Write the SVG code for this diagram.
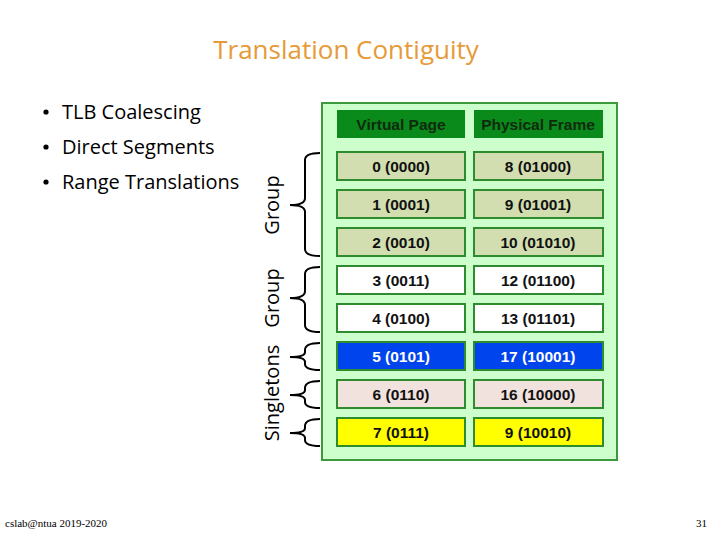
<svg xmlns="http://www.w3.org/2000/svg" width="720" height="540" viewBox="0 0 720 540">
<style>
.title{font-family:"Open Sans","Liberation Sans",sans-serif;font-size:26px;fill:#E69A38}
.bul{font-family:"Open Sans","Liberation Sans",sans-serif;font-size:20px;fill:#000}
.cell{stroke:#2E8B2E;stroke-width:2}
.ct{font-family:"Liberation Sans",sans-serif;font-weight:bold;font-size:15.5px;text-anchor:middle;fill:#111}
.ht{font-family:"Liberation Sans",sans-serif;font-weight:bold;font-size:15.5px;text-anchor:middle;fill:#0f2a0f}
.brace{fill:none;stroke:#000;stroke-width:2}
.lab{font-family:"Open Sans","Liberation Sans",sans-serif;font-size:20px;fill:#000;text-anchor:middle}
.foot{font-family:"Liberation Serif",serif;font-size:11px;fill:#000}
</style>
<rect width="720" height="540" fill="#fff"/>
<text class="title" x="346" y="59" text-anchor="middle">Translation Contiguity</text>
<g id="bullets">
<circle cx="46" cy="112" r="2.6"/><text class="bul" x="62" y="119">TLB Coalescing</text>
<circle cx="46" cy="147" r="2.6"/><text class="bul" x="62" y="154">Direct Segments</text>
<circle cx="46" cy="182" r="2.6"/><text class="bul" x="62" y="189">Range Translations</text>
</g>
<g id="table">
<rect x="322" y="103" width="295" height="357" fill="#CCFFCC" stroke="#3C9A3C" stroke-width="2"/>
<g id="hdr-vp"><rect x="337" y="110" width="128" height="28" fill="#0A8A1A"/><text class="ht" x="401" y="130">Virtual Page</text></g>
<g id="hdr-pf"><rect x="474" y="110" width="129" height="28" fill="#0A8A1A"/><text class="ht" x="538" y="130">Physical Frame</text></g>
<g id="r0"><rect class="cell" x="337" y="152" width="128" height="28" fill="#D2DEB0"/><text class="ct" x="401" y="172">0 (0000)</text><rect class="cell" x="474" y="152" width="129" height="28" fill="#D2DEB0"/><text class="ct" x="538" y="172">8 (01000)</text></g>
<g id="r1"><rect class="cell" x="337" y="190" width="128" height="28" fill="#D2DEB0"/><text class="ct" x="401" y="210">1 (0001)</text><rect class="cell" x="474" y="190" width="129" height="28" fill="#D2DEB0"/><text class="ct" x="538" y="210">9 (01001)</text></g>
<g id="r2"><rect class="cell" x="337" y="228" width="128" height="28" fill="#D2DEB0"/><text class="ct" x="401" y="248">2 (0010)</text><rect class="cell" x="474" y="228" width="129" height="28" fill="#D2DEB0"/><text class="ct" x="538" y="248">10 (01010)</text></g>
<g id="r3"><rect class="cell" x="337" y="266" width="128" height="28" fill="#FFFFFF"/><text class="ct" x="401" y="286">3 (0011)</text><rect class="cell" x="474" y="266" width="129" height="28" fill="#FFFFFF"/><text class="ct" x="538" y="286">12 (01100)</text></g>
<g id="r4"><rect class="cell" x="337" y="304" width="128" height="28" fill="#FFFFFF"/><text class="ct" x="401" y="324">4 (0100)</text><rect class="cell" x="474" y="304" width="129" height="28" fill="#FFFFFF"/><text class="ct" x="538" y="324">13 (01101)</text></g>
<g id="r5"><rect class="cell" x="337" y="342" width="128" height="28" fill="#0044EE"/><text class="ct" x="401" y="362" style="fill:#fff">5 (0101)</text><rect class="cell" x="474" y="342" width="129" height="28" fill="#0044EE"/><text class="ct" x="538" y="362" style="fill:#fff">17 (10001)</text></g>
<g id="r6"><rect class="cell" x="337" y="380" width="128" height="28" fill="#F2E2DE"/><text class="ct" x="401" y="400">6 (0110)</text><rect class="cell" x="474" y="380" width="129" height="28" fill="#F2E2DE"/><text class="ct" x="538" y="400">16 (10000)</text></g>
<g id="r7"><rect class="cell" x="337" y="418" width="128" height="28" fill="#FFFF00"/><text class="ct" x="401" y="438">7 (0111)</text><rect class="cell" x="474" y="418" width="129" height="28" fill="#FFFF00"/><text class="ct" x="538" y="438">9 (10010)</text></g>
</g>
<g id="connectors">
<path class="brace" d="M320,153 Q305,153 305,160 L305,198 Q305,205 290,205 Q305,205 305,212 L305,249 Q305,256 320,256"/>
<path class="brace" d="M320,267 Q305,267 305,274 L305,291 Q305,298 290,298 Q305,298 305,305 L305,325 Q305,332 320,332"/>
<path class="brace" d="M320,343 Q305,343 305,350 L305,352 Q305,357 290,357 Q305,357 305,362 L305,364 Q305,370 320,370"/>
<path class="brace" d="M320,381 Q305,381 305,388 L305,390 Q305,395 290,395 Q305,395 305,400 L305,402 Q305,408 320,408"/>
<path class="brace" d="M320,419 Q305,419 305,426 L305,428 Q305,433 290,433 Q305,433 305,438 L305,440 Q305,446 320,446"/>
</g>
<g id="labels">
<text class="lab" transform="translate(279,205) rotate(-90)">Group</text>
<text class="lab" transform="translate(279,298) rotate(-90)">Group</text>
<text class="lab" transform="translate(279,393) rotate(-90)">Singletons</text>
</g>
<text class="foot" x="5" y="527">cslab@ntua 2019-2020</text>
<text class="foot" x="707" y="527" text-anchor="end">31</text>
</svg>
